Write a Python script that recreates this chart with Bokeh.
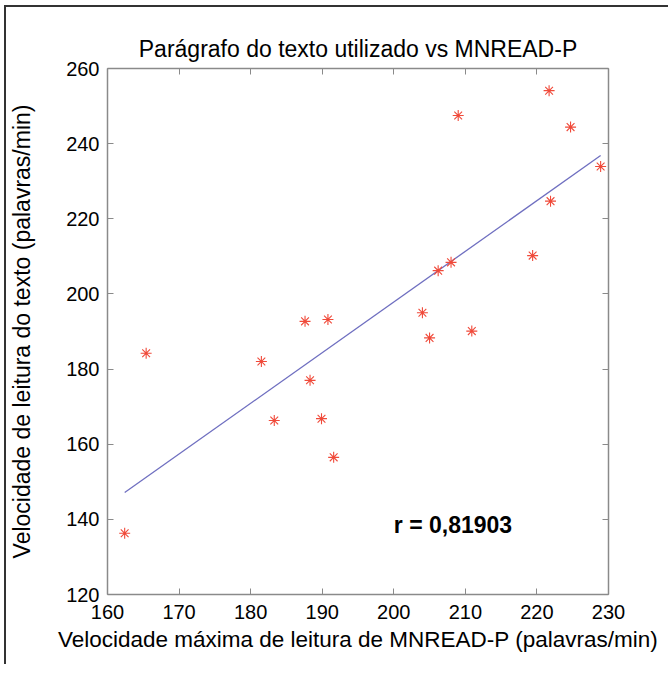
import numpy as np
from bokeh.plotting import figure
from bokeh.models import Range1d, LinearAxis, FixedTicker, Label
from bokeh.layouts import column
from bokeh.embed import file_html
from bokeh.resources import INLINE

# data
mnread_p = [162.4, 165.4, 181.5, 183.3, 187.6, 188.3, 189.9, 190.8, 191.6, 204.0,
            205.0, 206.2, 208.0, 210.9, 219.4, 221.7, 221.9, 224.7, 228.9, 209.0]
texto = [136.3, 184.2, 182.0, 166.3, 192.7, 177.0, 166.8, 193.2, 156.5, 195.0,
         188.3, 206.2, 208.4, 190.1, 210.2, 254.1, 224.7, 244.4, 233.9, 247.5]
x_ticks = [160, 170, 180, 190, 200, 210, 220, 230]
y_ticks = [120, 140, 160, 180, 200, 220, 240, 260]
r_text = "r = 0,81903"
r_pos = (200.0, 138.6)

FONT = "Liberation Sans"

p = figure(width=662, height=657, output_backend="svg", toolbar_location=None,
           x_range=Range1d(160, 230), y_range=Range1d(120, 260),
           min_border_left=100, min_border_right=60, min_border_top=61, min_border_bottom=70)
p.grid.visible = False
p.outline_line_color = None
p.background_fill_color = "white"
p.border_fill_color = "white"

p.title.text = "Parágrafo do texto utilizado vs MNREAD-P"
p.title.align = "center"
p.title.text_font = FONT
p.title.text_font_size = "23px"
p.title.text_font_style = "normal"
p.title.text_color = "black"
p.title.standoff = 14
p.title.offset = 4

for ax, t in ((p.xaxis[0], x_ticks), (p.yaxis[0], y_ticks)):
    ax.ticker = FixedTicker(ticks=t)
    ax.major_tick_in = 6
    ax.major_tick_out = 0
    ax.minor_tick_line_color = None
    ax.axis_line_color = "#8a8a8a"
    ax.axis_line_width = 1.5
    ax.major_tick_line_color = "#8a8a8a"
    ax.major_label_text_font = FONT
    ax.major_label_text_font_size = "20px"
    ax.major_label_text_color = "black"
    ax.axis_label_text_font = FONT
    ax.axis_label_text_font_size = "23px"
    ax.axis_label_text_font_style = "normal"
    ax.axis_label_text_color = "black"

p.xaxis[0].axis_label = "Velocidade máxima de leitura de MNREAD-P (palavras/min)"
p.xaxis[0].axis_label_text_font_size = "22.5px"
p.yaxis[0].axis_label = "Velocidade de leitura do texto (palavras/min)"
p.xaxis[0].major_label_standoff = 10
p.yaxis[0].major_label_standoff = 8
p.xaxis[0].axis_label_standoff = 5
p.yaxis[0].axis_label_standoff = 28

for loc, t in (("above", x_ticks), ("right", y_ticks)):
    ax = LinearAxis(ticker=FixedTicker(ticks=t), major_tick_in=6, major_tick_out=0,
                    minor_tick_line_color=None, axis_line_color="#8a8a8a",
                    axis_line_width=1.5, major_tick_line_color="#8a8a8a",
                    major_label_text_font_size="0px", major_label_standoff=0)
    p.add_layout(ax, loc)

# least-squares line
xa = np.array(mnread_p)
ya = np.array(texto)
k, b = np.polyfit(xa, ya, 1)
xl = np.array([xa.min(), xa.max()])
p.line(xl, k * xl + b, line_color="#6f6fc0", line_width=1.3)

p.scatter(mnread_p, texto, marker="asterisk", size=11, line_color="#f04a3a",
          line_width=1.1)

p.add_layout(Label(x=r_pos[0], y=r_pos[1], text=r_text, text_font=FONT,
                   text_font_size="23px", text_font_style="bold",
                   text_baseline="middle", text_align="left", text_color="black"))

layout = column(p, styles={"border-left": "2px solid #333", "border-top": "2px solid #333",
                           "margin-left": "4px", "margin-top": "5px"})

open("out.html", "w").write(file_html(layout, INLINE))
